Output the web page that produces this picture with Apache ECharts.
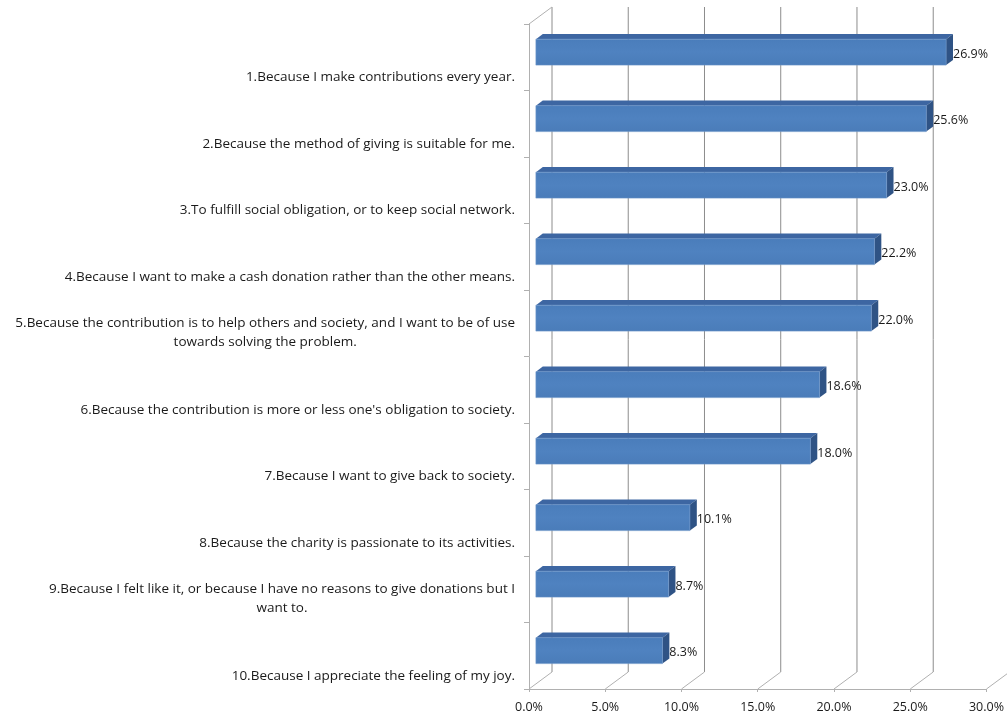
<!DOCTYPE html>
<html><head><meta charset="utf-8">
<script src="https://cdn.jsdelivr.net/npm/echarts@6/dist/echarts.min.js"></script>
<style>html,body{margin:0;padding:0;background:#fff}#c{width:1007px;height:720px}</style>
</head><body><div id="c"></div>
<script>
var categories = [
  "1.Because I make contributions every year.",
  "2.Because the method of giving is suitable for me.",
  "3.To fulfill social obligation, or to keep social network.",
  "4.Because I want to make a cash donation rather than the other means.",
  "5.Because the contribution is to help others and society, and I want to be of use\ntowards solving the problem.",
  "6.Because the contribution is more or less one's obligation to society.",
  "7.Because I want to give back to society.",
  "8.Because the charity is passionate to its activities.",
  "9.Because I felt like it, or because I have no reasons to give donations but I\nwant to.",
  "10.Because I appreciate the feeling of my joy."
];
var values = [26.9, 25.6, 23.0, 22.2, 22.0, 18.6, 18.0, 10.1, 8.7, 8.3];
var xTicks = [0, 5, 10, 15, 20, 25, 30];

var FONT = '"Open Sans", sans-serif';
var DX = 23, DY = -17;        // full depth vector
var D0 = 0.3, D1 = 0.6;       // bar depth range (fraction)
var BAR = 0.39;               // bar thickness fraction of band

var chart = echarts.init(document.getElementById('c'));

function wallRender(params, api) {
  var cs = params.coordSys;
  var v = api.value(0);
  var p = api.coord([v, 0]);
  var x = p[0];
  var top = cs.y, bot = cs.y + cs.height;
  var children = [];
  children.push({type: 'line', shape: {x1: x + DX, y1: top + DY, x2: x + DX, y2: bot + DY},
    style: {stroke: '#8c8c8c', lineWidth: 1}, silent: true});
  children.push({type: 'line', shape: {x1: x, y1: bot, x2: x + DX, y2: bot + DY},
    style: {stroke: '#b0b0b0', lineWidth: 1}, silent: true});
  if (params.dataIndex === 0) {
    children.push({type: 'line', shape: {x1: x, y1: top, x2: x + DX, y2: top + DY},
      style: {stroke: '#b0b0b0', lineWidth: 1}, silent: true});
  }
  return {type: 'group', children: children};
}

function barRender(params, api) {
  var i = api.value(0), v = api.value(1);
  var p0 = api.coord([0, i]);
  var p1 = api.coord([v, i]);
  var band = api.size([0, 1])[1];
  var h = band * BAR / 2;
  var ox = DX * D0, oy = DY * D0;
  var bx = DX * (D1 - D0), by = DY * (D1 - D0);
  var xl = p0[0] + ox, xr = p1[0] + ox;
  var yt = p0[1] - h + oy, yb = p0[1] + h + oy;
  return {type: 'group', children: [
    {type: 'polygon', shape: {points: [[xl, yt], [xr, yt], [xr + bx, yt + by], [xl + bx, yt + by]]},
      style: {fill: '#3d66a2'}},
    {type: 'polygon', shape: {points: [[xr, yt], [xr + bx, yt + by], [xr + bx, yb + by], [xr, yb]]},
      style: {fill: '#2f5385'}},
    {type: 'rect', shape: {x: xl, y: yt, width: xr - xl, height: yb - yt},
      style: {fill: new echarts.graphic.LinearGradient(0, 0, 0, 1, [
        {offset: 0, color: '#4a7dbb'}, {offset: 0.5, color: '#4f82c0'}, {offset: 1, color: '#4a7cb9'}]),
        stroke: '#6d96c9', lineWidth: 0.6}},
    {type: 'text', style: {text: v.toFixed(1) + '%', x: xr + bx, y: (yt + yb) / 2 + 2,
      verticalAlign: 'middle', align: 'left', fontSize: 12.5, fontFamily: FONT, fill: '#1a1a1a'}}
  ]};
}

chart.setOption({
  animation: false,
  grid: {left: 529, right: 15, top: 24, bottom: 31},
  xAxis: {
    type: 'value', min: 0, max: 30, interval: 5,
    axisLine: {show: true, lineStyle: {color: '#b0b0b0'}},
    axisTick: {show: true, length: 3, lineStyle: {color: '#b0b0b0'}},
    splitLine: {show: false},
    axisLabel: {formatter: function (v) { return v.toFixed(1) + '%'; }, margin: 12,
      fontSize: 12.5, fontFamily: FONT, color: '#1a1a1a'}
  },
  yAxis: {
    type: 'category', inverse: true, data: categories,
    axisLine: {show: true, lineStyle: {color: '#b0b0b0'}},
    axisTick: {show: true, length: 5, lineStyle: {color: '#b0b0b0'}},
    axisLabel: {
      margin: 14, align: 'right', verticalAlign: 'middle',
      fontSize: 13.5, fontFamily: FONT, color: '#1a1a1a',
      formatter: function (s) {
        var lines = s.split('\n');
        var sp = lines.length === 1 ? '{s1|}' : '{s2|}';
        return sp + '\n' + lines.map(function (l) { return '{c|' + l + '}'; }).join('\n');
      },
      rich: {
        s1: {height: 40, lineHeight: 40},
        s2: {height: 19, lineHeight: 19},
        c: {align: 'center', fontSize: 13.5, fontFamily: FONT, color: '#1a1a1a', lineHeight: 19}
      }
    }
  },
  series: [
    {type: 'custom', renderItem: wallRender, data: xTicks.map(function (t) { return [t]; }),
      encode: {x: 0}, silent: true, z: 1},
    {type: 'custom', renderItem: barRender,
      data: values.map(function (v, i) { return [i, v]; }),
      encode: {y: 0, x: 1}, z: 5}
  ]
});
</script></body></html>
